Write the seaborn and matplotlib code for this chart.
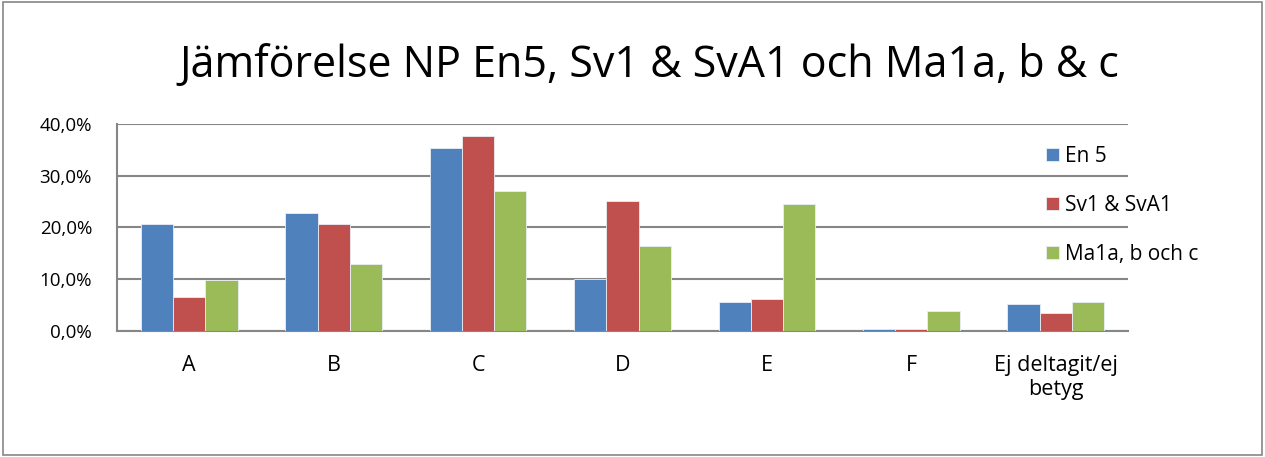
import pandas as pd
import seaborn as sns
import matplotlib.pyplot as plt
from matplotlib.patches import Rectangle
from matplotlib.ticker import FixedLocator, FuncFormatter

# data
categories = ["A", "B", "C", "D", "E", "F", "Ej deltagit/ej\nbetyg"]
series = ["En 5", "Sv1 & SvA1", "Ma1a, b och c"]
en5 = [20.7, 22.8, 35.4, 10.0, 5.6, 0.3, 5.2]
sv1 = [6.6, 20.7, 37.7, 25.1, 6.2, 0.3, 3.5]
ma1 = [9.9, 12.9, 27.1, 16.4, 24.5, 3.9, 5.6]
colors = ["#4F81BD", "#C0504D", "#9BBB59"]

df = pd.DataFrame({
    "Betyg": categories * 3,
    "Serie": [series[0]] * 7 + [series[1]] * 7 + [series[2]] * 7,
    "Andel": en5 + sv1 + ma1,
})

sns.set_style("white")
plt.rcParams['font.family'] = ['Open Sans', 'DejaVu Sans']
plt.rcParams['text.color'] = 'black'
plt.rcParams['xtick.labelcolor'] = 'black'
plt.rcParams['ytick.labelcolor'] = 'black'

fig = plt.figure(figsize=(12.65, 4.57), dpi=100)
ax = fig.add_axes([0.0925, 0.2757, 0.7992, 0.453])

sns.barplot(data=df, x="Betyg", y="Andel", hue="Serie", palette=colors,
            saturation=1, width=0.67, edgecolor="#e8eef6", linewidth=0.6,
            ax=ax, zorder=3)

ax.set_ylim(0, 40)
ax.set_xlim(-0.5, 6.5)
ax.set_yticks([0, 10, 20, 30, 40])
ax.yaxis.set_major_formatter(FuncFormatter(lambda v, p: f"{v:.1f}%".replace(".", ",")))
ax.grid(axis="y", color="#868686", linewidth=1.5, zorder=0)
ax.set_axisbelow(True)

# ticks between categories
ax.xaxis.set_minor_locator(FixedLocator([i - 0.5 for i in range(8)]))
ax.tick_params(axis="x", which="major", length=0, labelsize=15.5, pad=17)
ax.tick_params(axis="x", which="minor", length=6, width=1.5, color="#868686", direction="out")
ax.tick_params(axis="y", length=6, width=1.5, color="#868686", direction="out", labelsize=13.5, pad=12)
ax.set_xlabel("")
ax.set_ylabel("")

for s in ["top", "right"]:
    ax.spines[s].set_visible(False)
for s in ["left", "bottom"]:
    ax.spines[s].set_color("#868686")
    ax.spines[s].set_linewidth(1.5)

leg = ax.legend(loc="upper left", bbox_to_anchor=(0.911, 0.935), frameon=False,
                fontsize=15, handlelength=0.6, handleheight=0.6,
                handletextpad=0.3, labelspacing=1.35, borderaxespad=0)

fig.suptitle("Jämförelse NP En5, Sv1 & SvA1 och Ma1a, b & c", fontsize=31,
             x=0.513, y=0.905)

fig.patches.append(Rectangle((0.002, 0.004), 0.996, 0.992, transform=fig.transFigure,
                             fill=False, edgecolor="#868686", linewidth=1.2))

fig.savefig("out.png", dpi=100)
